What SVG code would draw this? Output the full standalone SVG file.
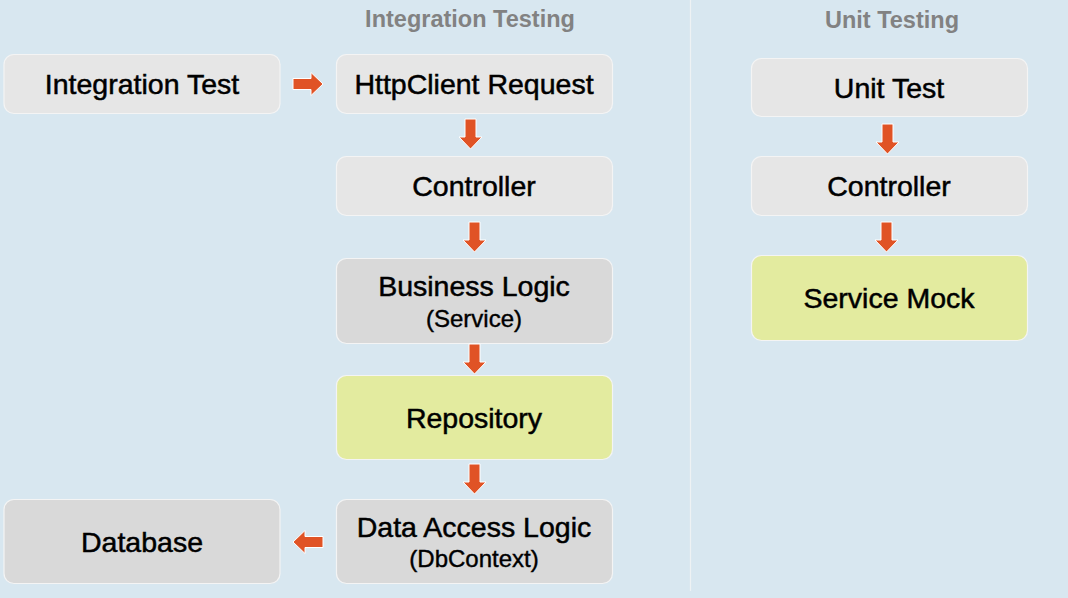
<svg xmlns="http://www.w3.org/2000/svg" xmlns:xlink="http://www.w3.org/1999/xlink" width="1068" height="598" viewBox="0 0 1068 598">
<style>
.bg{fill:#d8e7f0}
.box{stroke:#f4f4f4;stroke-width:1.2}
.l{fill:#e6e6e6}
.d{fill:#d9d9d9}
.y{fill:#e3eb9f}
.t{font-family:"Liberation Sans",Arial,sans-serif;font-size:28.5px;fill:#000;stroke:#000;stroke-width:0.5;text-anchor:middle}
.s{font-size:24px;stroke-width:0.4}
.h{font-family:"Liberation Sans",Arial,sans-serif;font-size:23.5px;font-weight:bold;fill:#828282;text-anchor:middle}
.arr{fill:#e05325;stroke:#ffffff;stroke-width:1}
</style>
<defs>
<path id="down" d="M-5.5,0 H5.5 V18 H11.5 L0,30 L-11.5,18 H-5.5 Z"/>
</defs>
<rect class="bg" x="0" y="0" width="1068" height="598"/>
<line x1="690.5" y1="0" x2="690.5" y2="591" stroke="#eef2f4" stroke-width="1.2"/>
<text class="h" x="470" y="27">Integration Testing</text>
<text class="h" x="892" y="28">Unit Testing</text>

<g id="integration-test"><rect class="box l" x="4" y="54.5" width="276" height="59" rx="10"/><text class="t" x="142" y="94">Integration Test</text></g>
<g id="httpclient-request"><rect class="box l" x="336.5" y="54.5" width="276" height="59" rx="10"/><text class="t" x="474" y="94">HttpClient Request</text></g>
<g id="controller-int"><rect class="box l" x="336.5" y="156.5" width="276" height="59" rx="10"/><text class="t" x="474" y="196">Controller</text></g>
<g id="business-logic"><rect class="box d" x="336.5" y="258.5" width="276" height="85" rx="10"/><text class="t" x="474" y="296">Business Logic</text><text class="t s" x="474" y="327">(Service)</text></g>
<g id="repository"><rect class="box y" x="336.5" y="375.5" width="276" height="84" rx="10"/><text class="t" x="474" y="428">Repository</text></g>
<g id="data-access-logic"><rect class="box d" x="336.5" y="499.5" width="276" height="84" rx="10"/><text class="t" x="474" y="537">Data Access Logic</text><text class="t s" x="474" y="567">(DbContext)</text></g>
<g id="database"><rect class="box d" x="4" y="499.5" width="276" height="84" rx="10"/><text class="t" x="142" y="552">Database</text></g>
<g id="unit-test"><rect class="box l" x="751.5" y="58.5" width="276" height="58" rx="10"/><text class="t" x="889" y="98">Unit Test</text></g>
<g id="controller-unit"><rect class="box l" x="751.5" y="156.5" width="276" height="59" rx="10"/><text class="t" x="889" y="196">Controller</text></g>
<g id="service-mock"><rect class="box y" x="751.5" y="255.5" width="276" height="85" rx="10"/><text class="t" x="889" y="308">Service Mock</text></g>

<g id="connectors">
<use class="arr" xlink:href="#down" transform="translate(293,84) rotate(-90)"/>
<use class="arr" xlink:href="#down" transform="translate(470.5,119)"/>
<use class="arr" xlink:href="#down" transform="translate(474.5,222)"/>
<use class="arr" xlink:href="#down" transform="translate(474.5,344)"/>
<use class="arr" xlink:href="#down" transform="translate(474.5,464)"/>
<use class="arr" xlink:href="#down" transform="translate(323,542) rotate(90)"/>
<use class="arr" xlink:href="#down" transform="translate(887.5,124)"/>
<use class="arr" xlink:href="#down" transform="translate(886.5,222)"/>
</g>
</svg>
